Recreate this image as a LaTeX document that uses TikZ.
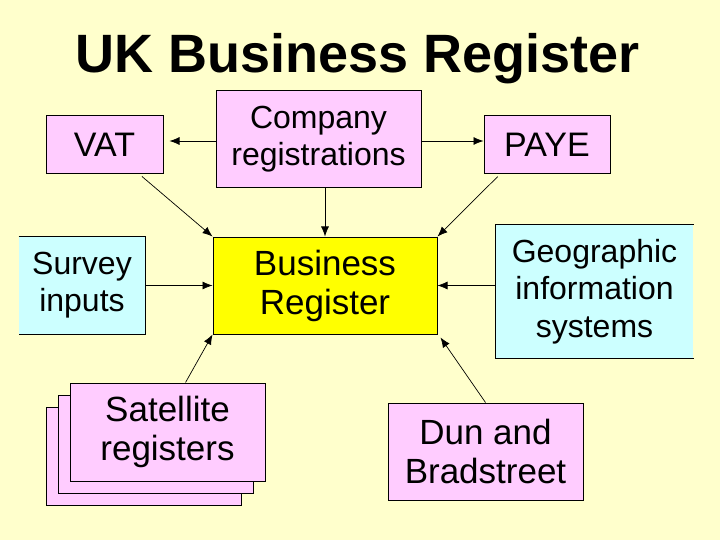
\documentclass[tikz,border=0pt]{standalone}
\usepackage{fontspec}
\setmainfont{Liberation Sans}
\usetikzlibrary{arrows.meta,calc}
\definecolor{paper}{HTML}{FFFFCC}
\definecolor{pinkbg}{HTML}{FFCCFF}
\definecolor{cyanbg}{HTML}{CCFFFF}
\definecolor{regyellow}{HTML}{FFFF00}
\tikzset{
  bodybox/.style={line width=1pt,align=center,inner sep=0pt,
                  font=\fontsize{32}{37}\selectfont},
  bigtext/.style={font=\fontsize{35}{39}\selectfont},
  pinkbox/.style={bodybox,draw=black,fill=pinkbg},
  cyanbox/.style={bodybox,fill=cyanbg},
  yellowbox/.style={bodybox,draw=black,fill=regyellow},
  linkarr/.style={-{Latex[length=10pt,width=8pt]},line width=0.7pt}
}

\begin{document}
\begin{tikzpicture}[x=1pt,y=-1pt]
  \fill[paper] (0,0) rectangle (720,540);
  \useasboundingbox (0,0) rectangle (720,540);

  % Title
  \node[font=\fontsize{54}{60}\selectfont\bfseries,anchor=base] (title) at (358,73) {UK Business Register};

  % Top row
  \node[pinkbox,font=\fontsize{34}{38}\selectfont,minimum width=117,minimum height=58] (vat) at (104.5,145) {VAT};
  \node[pinkbox,minimum width=205,minimum height=97] (comp) at (318.5,139.5) {Company\\registrations};
  \node[pinkbox,font=\fontsize{34}{38}\selectfont,minimum width=126,minimum height=58] (paye) at (547,145) {PAYE};

  % Middle row (side boxes open on the outer edge)
  \node[cyanbox,minimum width=126,minimum height=97] (surv) at (82,285.5) {Survey\\inputs};
  \draw[line width=1pt] (surv.north west) -- (surv.north east) -- (surv.south east) -- (surv.south west);
  \node[yellowbox,bigtext,minimum width=224,minimum height=97] (br) at (325,285.5) {Business\\Register};
  \node[cyanbox,minimum width=197,minimum height=133,font=\fontsize{32}{37.5}\selectfont] (geo) at (594.5,291.5) {Geographic\\information\\systems};
  \draw[line width=1pt] (geo.north east) -- (geo.north west) -- (geo.south west) -- (geo.south east);

  % Bottom row
  \node[pinkbox,minimum width=195,minimum height=98] (sat3) at (143.5,456.5) {};
  \node[pinkbox,minimum width=195,minimum height=98] (sat2) at (155.5,444.5) {};
  \node[pinkbox,bigtext,minimum width=195,minimum height=98] (sat1) at (167.5,432) {Satellite\\registers};
  \node[pinkbox,bigtext,minimum width=195,minimum height=97] (dun) at (485.5,451.5) {Dun and\\Bradstreet};

  % Links
  \draw[linkarr,shorten >=6pt] (comp.west |- 0,141) -- (vat.east |- 0,141);
  \draw[linkarr] (comp.east |- 0,141) -- (paye.west |- 0,141);
  \draw[linkarr,shorten <=3pt] (vat.-40) -- (br.north west);
  \draw[linkarr] (br.north |- comp.south) -- (br.north);
  \draw[linkarr,shorten <=3pt] (paye.212) -- (br.north east);
  \draw[linkarr] (surv.east) -- (br.west);
  \draw[linkarr] (br.east -| geo.west) -- (br.east);
  \draw[linkarr] (sat1.70) -- (br.south west);
  \draw[linkarr] (dun.north) -- ($(br.south east)+(3,3)$);
\end{tikzpicture}
\end{document}
